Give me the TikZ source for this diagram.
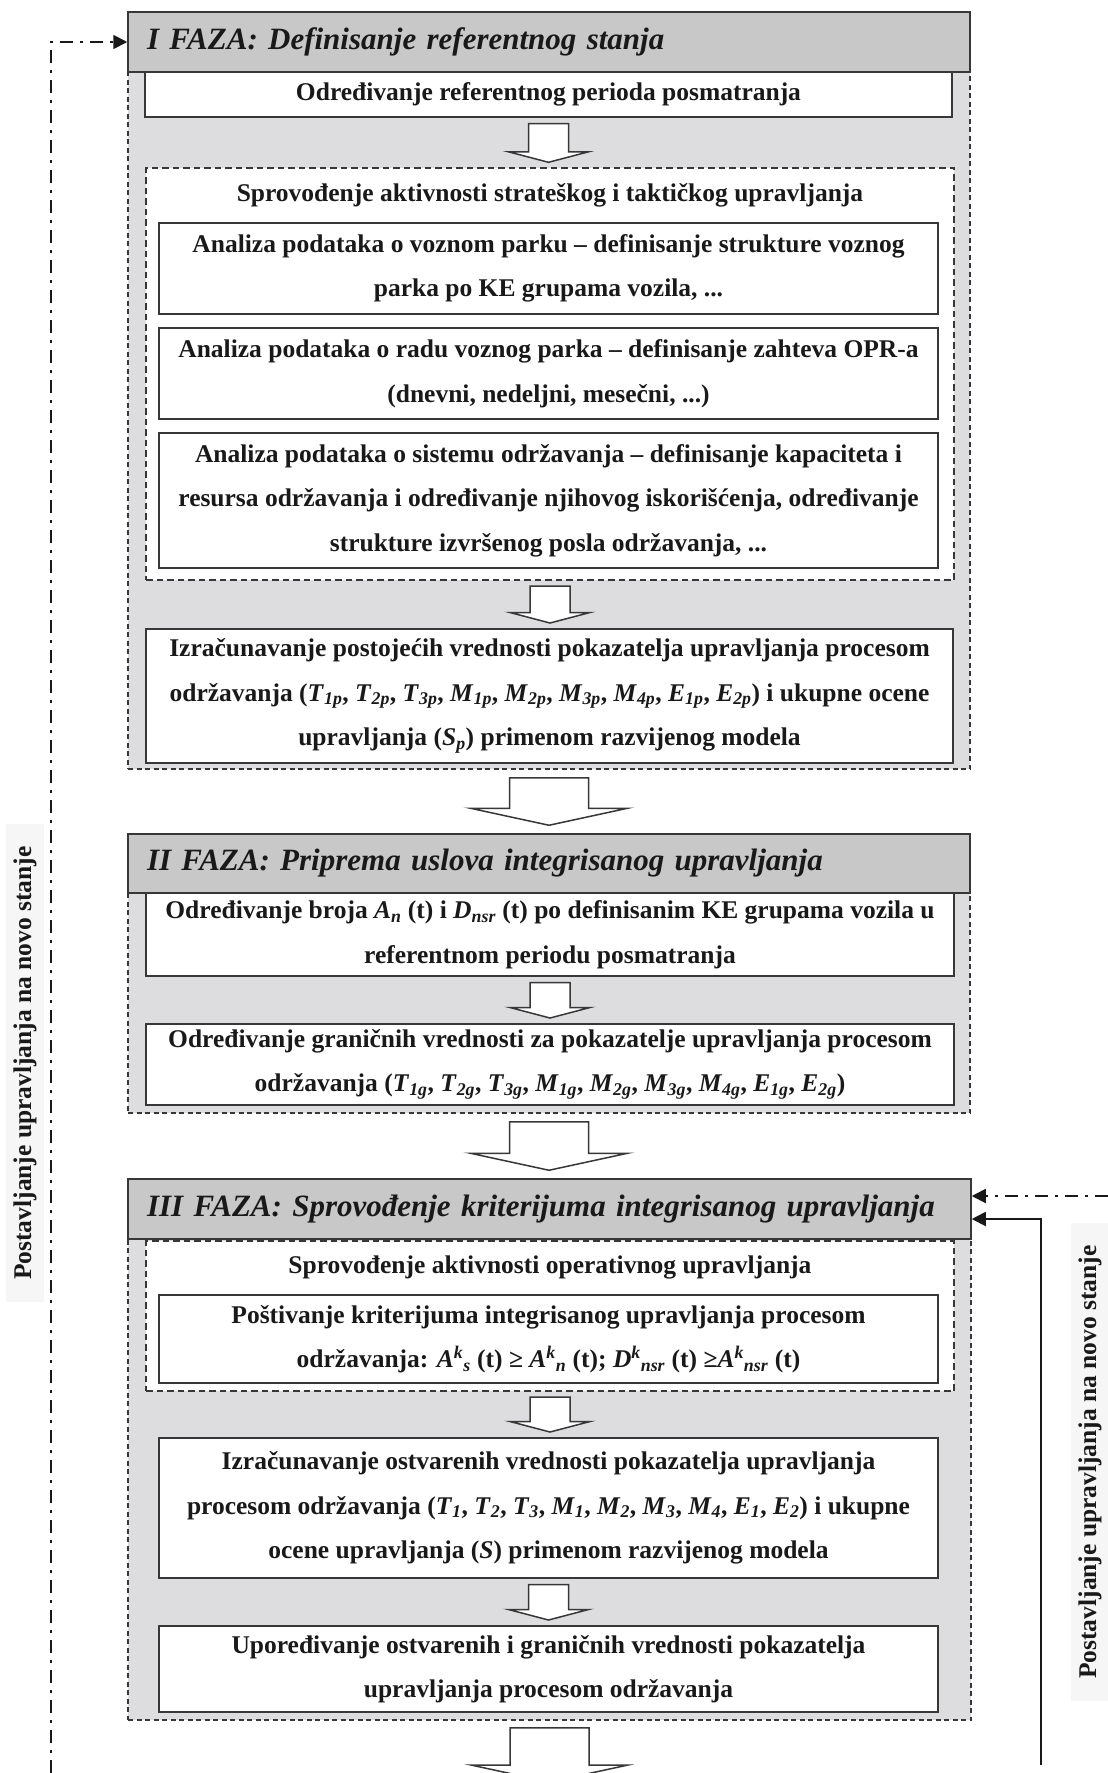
\documentclass[tikz,border=0pt]{standalone}
\usepackage{fontspec}
\setmainfont{Liberation Serif}
\usetikzlibrary{arrows.meta,calc}

\definecolor{phasefill}{RGB}{221,221,223}
\definecolor{headfill}{RGB}{200,200,201}
\definecolor{edge}{RGB}{55,55,55}
\definecolor{ink}{RGB}{25,25,25}
\definecolor{labelfill}{RGB}{246,246,246}

% italic symbol with italic subscript, and with superscript + subscript
\newcommand\isub[2]{\textit{#1}\textsubscript{\textit{#2}}}
\newcommand\isupsub[3]{\textit{#1}\textsuperscript{\textit{#2}}\textsubscript{\textit{#3}}}

% hollow block arrow: start point, tip point, half shaft width, half head width, head height
\newcommand\blockarrow[5]{%
  \draw[arrowbody] let \p1=#1, \p2=#2 in
    (\x1-#3,\y1) -- (\x1+#3,\y1) -- (\x1+#3,\y2+#5) -- (\x1+#4,\y2+#5)
    -- (\x1,\y2) -- (\x1-#4,\y2+#5) -- (\x1-#3,\y2+#5) -- cycle;}
\newcommand\stepdown[2]{\blockarrow{($(#1.south)+(0,5.5)$)}{($(#2.north)+(0,-5)$)}{20pt}{40pt}{10.5pt}}
\newcommand\phasedown[2]{\blockarrow{($(#1.south)+(0,8)$)}{($(#2.north)+(0,-8)$)}{39.5pt}{78.5pt}{17pt}}

\tikzset{
  every node/.style={text=ink},
  body/.style={font=\fontsize{25.5pt}{44.5pt}\selectfont\bfseries, align=center},
  phase/.style={draw=edge, line width=1.8pt, dash pattern=on 5pt off 3.5pt, fill=phasefill, inner sep=0pt},
  header/.style={draw=edge, line width=1.5pt, fill=headfill, inner ysep=0pt, inner xsep=19pt,
    font=\fontsize{31pt}{36pt}\selectfont\bfseries\itshape, align=left},
  group/.style={draw=edge, line width=1.4pt, dash pattern=on 6.5pt off 4pt, fill=white, inner sep=0pt},
  box/.style={body, draw=edge, line width=2pt, fill=white, inner sep=0pt},
  arrowbody/.style={draw=edge, line width=1.5pt, fill=white, line join=miter},
  feedback/.style={draw=ink, line width=1.8pt, dash pattern=on 13pt off 7pt on 3pt off 7pt,
    -{Triangle[length=14pt,width=14pt]}},
  solidback/.style={draw=ink, line width=1.8pt, -{Triangle[length=14pt,width=14pt]}},
  sidelabel/.style={rotate=90, fill=labelfill, inner xsep=22pt, inner ysep=7pt,
    font=\fontsize{25.5pt}{30pt}\selectfont\bfseries},
}

\begin{document}
\begin{tikzpicture}[x=1pt, y=-1pt]
\useasboundingbox (0,0) rectangle (1108,1773);
\clip (0,0) rectangle (1108,1773);

% ---------------- Phase I ----------------
\node[phase, minimum width=842pt, minimum height=697pt] (c1) at (549,420.5) {};
\node[header, minimum height=60pt, text width=804pt] (h1) at (549,42)
  {I FAZA: Definisanje referentnog stanja};
\node[box, minimum width=807pt, minimum height=45pt] (r0) at (548.5,94.5)
  {Određivanje referentnog perioda posmatranja};
\node[group, minimum width=808pt, minimum height=412pt] (s1) at (550,374) {};
\node[body] (s1t) at (550,195) {Sprovođenje aktivnosti strateškog i taktičkog upravljanja};
\node[box, minimum width=779pt, minimum height=91pt] (a1) at (548.5,268.5)
  {Analiza podataka o voznom parku – definisanje strukture voznog\\ parka po KE grupama vozila, ...};
\node[box, minimum width=779pt, minimum height=91pt] (a2) at (548.5,373.5)
  {Analiza podataka o radu voznog parka – definisanje zahteva OPR-a\\ (dnevni, nedeljni, mesečni, ...)};
\node[box, minimum width=779pt, minimum height=135pt] (a3) at (548.5,500.5)
  {Analiza podataka o sistemu održavanja – definisanje kapaciteta i\\
   resursa održavanja i određivanje njihovog iskorišćenja, određivanje\\
   strukture izvršenog posla održavanja, ...};
\node[box, minimum width=807pt, minimum height=134pt] (p1) at (549.5,696)
  {Izračunavanje postojećih vrednosti pokazatelja upravljanja procesom\\
   održavanja (\isub{T}{1p}, \isub{T}{2p}, \isub{T}{3p}, \isub{M}{1p}, \isub{M}{2p}, \isub{M}{3p}, \isub{M}{4p}, \isub{E}{1p}, \isub{E}{2p}) i ukupne ocene\\
   upravljanja (\isub{S}{p}) primenom razvijenog modela};
\stepdown{r0}{s1}
\stepdown{s1}{p1}

% ---------------- Phase II ----------------
\node[phase, minimum width=842pt, minimum height=220pt] (c2) at (549,1003) {};
\node[header, minimum height=59pt, text width=804pt] (h2) at (549,863.5)
  {II FAZA: Priprema uslova integrisanog upravljanja};
\node[box, minimum width=808pt, minimum height=83pt] (b1) at (550,934.5)
  {Određivanje broja \isub{A}{n} (t) i \isub{D}{nsr} (t) po definisanim KE grupama vozila u\\ referentnom periodu posmatranja};
\node[box, minimum width=808pt, minimum height=81pt] (b2) at (550,1064.5)
  {Određivanje graničnih vrednosti za pokazatelje upravljanja procesom\\
   održavanja (\isub{T}{1g}, \isub{T}{2g}, \isub{T}{3g}, \isub{M}{1g}, \isub{M}{2g}, \isub{M}{3g}, \isub{M}{4g}, \isub{E}{1g}, \isub{E}{2g})};
\stepdown{b1}{b2}
\phasedown{c1}{h2}

% ---------------- Phase III ----------------
\node[phase, minimum width=843pt, minimum height=481pt] (c3) at (549.5,1479.5) {};
\node[header, minimum height=60pt, text width=805pt] (h3) at (549.5,1209)
  {III FAZA: Sprovođenje kriterijuma integrisanog upravljanja};
\node[group, minimum width=808pt, minimum height=150pt] (s3) at (550,1316) {};
\node[body] (s3t) at (550,1267) {Sprovođenje aktivnosti operativnog upravljanja};
\node[box, minimum width=779pt, minimum height=88pt] (k1) at (548.5,1339)
  {Poštivanje kriterijuma integrisanog upravljanja procesom\\
   održavanja: \isupsub{A}{k}{s} (t) ≥ \isupsub{A}{k}{n} (t); \isupsub{D}{k}{nsr} (t) ≥\isupsub{A}{k}{nsr} (t)};
\node[box, minimum width=779pt, minimum height=140pt] (k2) at (548.5,1508)
  {Izračunavanje ostvarenih vrednosti pokazatelja upravljanja\\
   procesom održavanja (\isub{T}{1}, \isub{T}{2}, \isub{T}{3}, \isub{M}{1}, \isub{M}{2}, \isub{M}{3}, \isub{M}{4}, \isub{E}{1}, \isub{E}{2}) i ukupne\\
   ocene upravljanja (\textit{S}) primenom razvijenog modela};
\node[box, minimum width=779pt, minimum height=86pt] (k3) at (548.5,1669)
  {Upoređivanje ostvarenih i graničnih vrednosti pokazatelja\\ upravljanja procesom održavanja};
\stepdown{s3}{k2}
\stepdown{k2}{k3}
\phasedown{c2}{h3}

% outgoing arrow towards the next phase
\coordinate (next) at (549,1782);
\blockarrow{($(c3.south)+(0,7)$)}{(next)}{39.5pt}{78.5pt}{17pt}

% ---------------- feedback loops ----------------
\node[sidelabel] (ll) at (25,1063) {Postavljanje upravljanja na novo stanje};
\coordinate (lfstart) at (51,1773);
\draw[feedback] (lfstart) |- (h1.west);

\node[sidelabel] (rl) at (1090,1462) {Postavljanje upravljanja na novo stanje};
\coordinate (rfstart) at (1108,1196);
\draw[feedback] (rfstart) -- (rfstart -| h3.east);
\coordinate (rsstart) at (1041,1765);
\draw[solidback] (rsstart) |- ($(h3.east)+(0,10)$);
\end{tikzpicture}
\end{document}
